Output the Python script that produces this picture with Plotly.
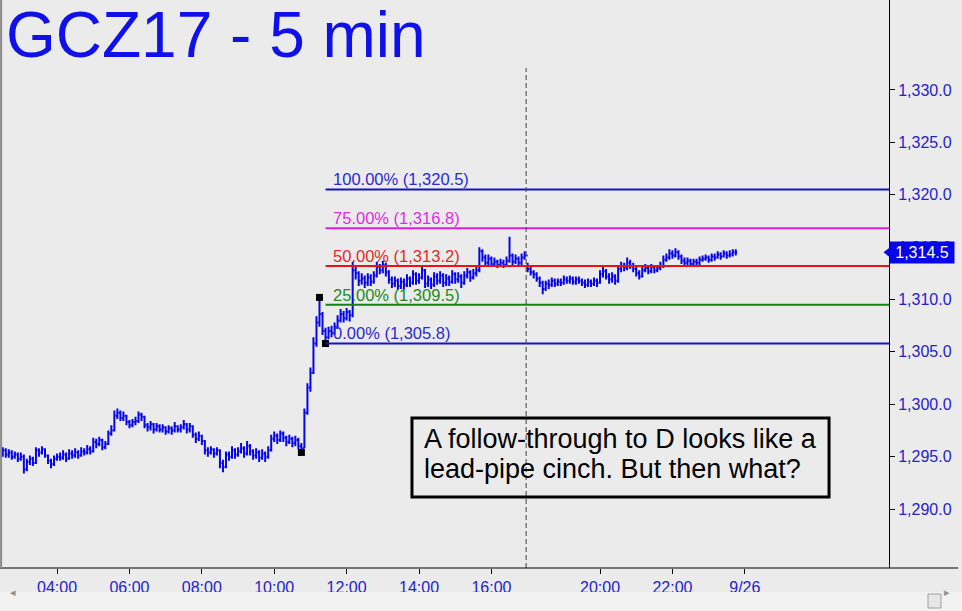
import plotly.graph_objects as go
import pandas as pd

# ---------------- data ----------------
title_text = "GCZ17 - 5 min"

bar_close = [
    1295.6, 1295.2, 1295.4, 1295.0, 1295.2, 1294.8, 1295.0, 1293.8, 1294.5, 1294.8, 1294.4, 1295.6,
    1295.4, 1295.7, 1295.1, 1294.6, 1294.3, 1294.8, 1295.0, 1294.9, 1295.2, 1294.8, 1295.3, 1295.1,
    1295.4, 1295.1, 1295.5, 1295.4, 1295.7, 1295.5, 1296.4, 1296.2, 1296.6, 1295.9, 1296.2, 1297.2,
    1297.5, 1298.9, 1299.2, 1298.7, 1298.9, 1298.3, 1298.0, 1298.3, 1298.4, 1299.0, 1298.8, 1298.0,
    1297.8, 1298.1, 1297.6, 1297.9, 1297.6, 1297.8, 1297.4, 1297.7, 1297.5, 1297.9, 1297.6, 1297.8,
    1298.1, 1297.6, 1297.9, 1297.1, 1296.7, 1297.0, 1296.5, 1295.6, 1295.4, 1295.7, 1295.3, 1295.6,
    1294.4, 1294.0, 1295.2, 1295.0, 1295.6, 1295.2, 1295.5, 1295.8, 1295.3, 1296.0, 1295.5, 1295.1,
    1295.4, 1294.9, 1295.3, 1295.0, 1295.6, 1296.7, 1297.0, 1296.6, 1297.2, 1296.8, 1296.4, 1296.7,
    1296.3, 1296.6, 1296.0, 1295.8, 1299.2, 1301.6, 1303.0, 1305.8, 1307.8, 1308.6, 1307.0, 1306.4,
    1307.0, 1306.8, 1307.4, 1308.0, 1308.6, 1308.2, 1308.8, 1308.5, 1312.8, 1312.5, 1311.8, 1312.0,
    1311.6, 1312.1, 1311.7, 1312.3, 1313.1, 1312.8, 1313.3, 1312.6, 1311.9, 1311.5, 1311.8, 1311.3,
    1311.7, 1311.4, 1312.0, 1311.6, 1312.4, 1311.8, 1312.1, 1312.8, 1311.5, 1311.9, 1311.4, 1312.2,
    1311.8, 1312.3, 1311.6, 1312.0, 1311.7, 1312.4, 1311.9, 1312.2, 1311.6, 1312.3, 1312.6, 1312.1,
    1312.5, 1312.8, 1314.6, 1314.0, 1313.5, 1313.9, 1313.4, 1313.6, 1313.3, 1313.5, 1313.3, 1313.7,
    1314.2, 1313.6, 1313.9, 1313.5, 1314.0, 1314.2,
    1312.9, 1312.6, 1312.4, 1312.0, 1311.6, 1311.0, 1311.5, 1311.4, 1311.8, 1311.5, 1311.7, 1311.6,
    1311.9, 1311.8, 1312.0, 1311.7, 1311.9, 1311.8, 1311.6, 1311.4, 1311.7, 1311.5, 1311.8, 1311.6,
    1312.4, 1312.7, 1312.2, 1311.9, 1312.2, 1311.8, 1312.9, 1313.2, 1313.0, 1313.5, 1313.2, 1312.9,
    1312.5, 1312.2, 1312.8, 1313.0, 1312.7, 1313.1, 1312.8, 1313.0, 1313.2, 1313.8, 1314.0, 1314.4,
    1314.2, 1314.5, 1314.1, 1313.7, 1313.5, 1313.7, 1313.4, 1313.6, 1313.5, 1313.8, 1313.9, 1314.0,
    1313.8, 1314.1, 1314.0, 1314.3, 1314.1, 1314.4, 1314.2, 1314.3, 1314.5, 1314.5,
]

bar_high = [
    1295.9, 1295.8, 1295.7, 1295.6, 1295.5, 1295.4, 1295.4, 1295.2, 1294.8, 1295.1, 1295.0, 1295.9,
    1295.8, 1296.0, 1295.8, 1295.2, 1294.8, 1295.1, 1295.3, 1295.4, 1295.6, 1295.4, 1295.7, 1295.6,
    1295.8, 1295.6, 1295.9, 1295.8, 1296.1, 1296.0, 1296.8, 1296.7, 1296.9, 1296.7, 1296.5, 1297.5,
    1298.0, 1299.4, 1299.6, 1299.4, 1299.3, 1299.0, 1298.5, 1298.6, 1298.8, 1299.3, 1299.2, 1298.9,
    1298.2, 1298.4, 1298.2, 1298.2, 1298.1, 1298.1, 1297.9, 1298.0, 1297.9, 1298.3, 1298.0, 1298.1,
    1298.5, 1298.2, 1298.2, 1298.0, 1297.3, 1297.4, 1297.1, 1296.6, 1295.9, 1296.0, 1295.8, 1295.9,
    1295.7, 1294.7, 1295.5, 1295.5, 1296.0, 1295.8, 1295.9, 1296.3, 1296.0, 1296.5, 1296.2, 1295.7,
    1295.8, 1295.6, 1295.7, 1295.5, 1296.0, 1297.1, 1297.4, 1297.2, 1297.5, 1297.4, 1297.0, 1297.1,
    1296.9, 1297.0, 1296.8, 1296.3, 1299.6, 1302.0, 1303.5, 1306.4, 1308.4, 1310.2, 1308.8, 1307.3,
    1307.4, 1307.5, 1307.8, 1308.5, 1309.1, 1308.9, 1309.2, 1309.0, 1313.6, 1313.2, 1312.7, 1312.5,
    1312.3, 1312.5, 1312.4, 1312.7, 1313.6, 1313.4, 1313.7, 1313.5, 1312.8, 1312.2, 1312.2, 1312.0,
    1312.1, 1312.0, 1312.4, 1312.2, 1312.8, 1312.6, 1312.5, 1313.3, 1312.9, 1312.3, 1312.1, 1312.6,
    1312.5, 1312.7, 1312.5, 1312.4, 1312.3, 1312.8, 1312.6, 1312.6, 1312.4, 1312.7, 1313.0, 1312.8,
    1312.9, 1313.2, 1315.0, 1314.8, 1314.3, 1314.3, 1314.1, 1314.0, 1313.8, 1313.9, 1313.8, 1314.1,
    1316.0, 1314.4, 1314.3, 1314.1, 1314.4, 1314.6,
    1313.5, 1313.1, 1312.8, 1312.6, 1312.2, 1311.8, 1311.8, 1311.9, 1312.1, 1312.0, 1312.0, 1312.0,
    1312.3, 1312.2, 1312.3, 1312.2, 1312.2, 1312.2, 1312.0, 1311.9, 1312.0, 1311.9, 1312.1, 1312.0,
    1312.8, 1313.1, 1312.9, 1312.5, 1312.6, 1312.4, 1313.3, 1313.6, 1313.5, 1314.0, 1313.8, 1313.5,
    1313.1, 1312.8, 1313.1, 1313.4, 1313.2, 1313.4, 1313.3, 1313.3, 1313.6, 1314.2, 1314.4, 1314.8,
    1314.7, 1314.9, 1314.7, 1314.3, 1314.0, 1314.0, 1313.9, 1313.9, 1313.9, 1314.1, 1314.2, 1314.3,
    1314.2, 1314.4, 1314.4, 1314.6, 1314.5, 1314.7, 1314.6, 1314.7, 1314.8, 1314.8,
]

bar_low = [
    1295.0, 1294.9, 1294.9, 1294.7, 1294.8, 1294.5, 1294.6, 1293.4, 1293.6, 1294.2, 1294.1, 1294.3,
    1295.0, 1295.2, 1294.9, 1294.3, 1293.9, 1294.1, 1294.6, 1294.6, 1294.7, 1294.5, 1294.7, 1294.8,
    1294.9, 1294.8, 1295.0, 1295.1, 1295.2, 1295.2, 1295.4, 1295.8, 1296.0, 1295.6, 1295.7, 1296.1,
    1297.0, 1297.4, 1298.6, 1298.4, 1298.4, 1298.0, 1297.7, 1297.8, 1298.0, 1298.2, 1298.4, 1297.7,
    1297.4, 1297.5, 1297.2, 1297.4, 1297.3, 1297.3, 1297.1, 1297.2, 1297.1, 1297.3, 1297.3, 1297.3,
    1297.6, 1297.2, 1297.3, 1296.8, 1296.3, 1296.5, 1296.1, 1295.2, 1295.0, 1295.2, 1294.9, 1295.1,
    1293.9, 1293.5, 1293.9, 1294.6, 1294.8, 1294.8, 1295.0, 1295.3, 1294.9, 1295.1, 1295.1, 1294.7,
    1294.8, 1294.5, 1294.7, 1294.5, 1294.8, 1295.5, 1296.4, 1296.2, 1296.4, 1296.4, 1296.0, 1296.2,
    1295.9, 1296.0, 1295.7, 1295.4, 1295.8, 1299.0, 1301.2, 1302.9, 1305.5, 1307.4, 1306.6, 1305.8,
    1306.2, 1306.4, 1306.6, 1307.2, 1307.8, 1307.8, 1308.0, 1307.9, 1308.3, 1311.9, 1311.3, 1311.4,
    1311.1, 1311.3, 1311.3, 1311.5, 1312.1, 1312.4, 1312.5, 1312.2, 1311.5, 1311.1, 1311.2, 1310.9,
    1311.0, 1311.0, 1311.2, 1311.2, 1311.4, 1311.4, 1311.5, 1311.9, 1311.1, 1311.2, 1311.0, 1311.2,
    1311.4, 1311.5, 1311.2, 1311.3, 1311.3, 1311.5, 1311.5, 1311.6, 1311.1, 1311.4, 1312.0, 1311.7,
    1311.9, 1312.2, 1312.6, 1313.6, 1313.1, 1313.3, 1313.1, 1313.2, 1313.0, 1313.1, 1313.0, 1313.1,
    1313.5, 1313.3, 1313.4, 1313.2, 1313.3, 1313.8,
    1312.6, 1312.3, 1312.0, 1311.7, 1311.2, 1310.5, 1310.8, 1311.0, 1311.2, 1311.2, 1311.3, 1311.3,
    1311.4, 1311.5, 1311.5, 1311.4, 1311.4, 1311.5, 1311.3, 1311.1, 1311.2, 1311.2, 1311.3, 1311.2,
    1311.5, 1312.1, 1311.9, 1311.5, 1311.6, 1311.4, 1311.6, 1312.6, 1312.7, 1312.8, 1312.9, 1312.6,
    1312.2, 1311.9, 1312.1, 1312.6, 1312.4, 1312.5, 1312.5, 1312.6, 1312.8, 1313.0, 1313.6, 1313.8,
    1313.9, 1314.0, 1313.8, 1313.4, 1313.2, 1313.3, 1313.1, 1313.2, 1313.2, 1313.3, 1313.6, 1313.7,
    1313.5, 1313.6, 1313.7, 1313.9, 1313.8, 1314.0, 1313.9, 1314.0, 1314.1, 1314.2,
]

first_open = 1295.3
bar_open = [first_open] + bar_close[:-1]   # each bar opens at the prior close

session1_start, session1_end = "2017-09-25 02:30", "2017-09-25 16:55"
session2_start, session2_end = "2017-09-25 18:00", "2017-09-26 04:00"

tick_times = ["2017-09-25 04:00", "2017-09-25 06:00", "2017-09-25 08:00", "2017-09-25 10:00",
              "2017-09-25 12:00", "2017-09-25 14:00", "2017-09-25 16:00", "2017-09-25 20:00",
              "2017-09-25 22:00", "2017-09-26 00:00"]
tick_text = ["04:00", "06:00", "08:00", "10:00", "12:00", "14:00", "16:00", "20:00", "22:00", "9/26"]
price_ticks = [1290, 1295, 1300, 1305, 1310, 1315, 1320, 1325, 1330]

pivot_times = ["2017-09-25 10:45", "2017-09-25 11:15", "2017-09-25 11:25"]
pivot_price = [1295.4, 1310.2, 1305.8]

fib_pct = ["100.00%", "75.00%", "50.00%", "25.00%", "0.00%"]
fib_price = [1320.5, 1316.8, 1313.2, 1309.5, 1305.8]
fib_line_color = ["#1414c4", "#e01ee0", "#e81414", "#148214", "#1414c4"]
fib_text_color = ["#2a2ad0", "#e02ee0", "#e22a2a", "#228a22", "#2a2ad0"]

last_price = 1314.5
note_lines = ["A follow-through to D looks like a", "lead-pipe cinch. But then what?"]

# ---------------- positions on a session-compressed bar axis ----------------
slots = list(pd.date_range(session1_start, session1_end, freq="5min")) + \
        list(pd.date_range(session2_start, session2_end, freq="5min"))
slot_index = {t: i for i, t in enumerate(slots)}
n = len(bar_close)
bar_pos = list(range(n))
tickvals = [slot_index[pd.Timestamp(t)] for t in tick_times]
pivot_pos = [slot_index[pd.Timestamp(t)] for t in pivot_times]
break_pos = slot_index[pd.Timestamp(session2_start)] - 0.5
fib_start = pivot_pos[2]

x_view = [-0.25, 293.8]
y_view = [1284.37, 1338.59]

BAR = "#0606e6"
AXIS_BLUE = "#2323c8"
BG = "#ebebeb"
ARIAL = "Liberation Sans, Arial, sans-serif"

fig = go.Figure()

# fib labels (below the bars)
fig.add_trace(go.Scatter(
    x=[fib_start + 2.5] * len(fib_price), y=fib_price, mode="text",
    text=[f"{p} ({v:,.1f})" for p, v in zip(fib_pct, fib_price)],
    textposition="top right",
    textfont=dict(family=ARIAL, size=16.5, color=fib_text_color),
    hoverinfo="skip", cliponaxis=False))

fig.add_trace(go.Ohlc(
    x=bar_pos, open=bar_open, high=bar_high, low=bar_low, close=bar_close,
    increasing=dict(line=dict(color=BAR, width=2)),
    decreasing=dict(line=dict(color=BAR, width=2)),
    tickwidth=0.45, hoverinfo="skip"))

fig.add_trace(go.Scatter(
    x=pivot_pos, y=pivot_price, mode="markers",
    marker=dict(symbol="square", size=7, color="black"), hoverinfo="skip"))

fig.add_trace(go.Scatter(
    x=[x_view[1]], y=[last_price], mode="markers",
    marker=dict(symbol="triangle-left", size=11, color=BAR), cliponaxis=False, hoverinfo="skip"))

shapes = []
for v, c in zip(fib_price, fib_line_color):
    shapes.append(dict(type="line", xref="x", yref="y", x0=fib_start, x1=x_view[1], y0=v, y1=v,
                       line=dict(color=c, width=2), layer="above"))
# session-break dashed line
shapes.append(dict(type="line", xref="x", yref="y", x0=break_pos, x1=break_pos, y0=y_view[0], y1=1332.1,
                   line=dict(color="#404040", width=1, dash="5px,3px"), layer="above"))
# note box
shapes.append(dict(type="rect", xref="paper", yref="paper", x0=0.4622, x1=0.9324, y0=0.125, y1=0.264,
                   line=dict(color="black", width=3), fillcolor="rgba(0,0,0,0)", layer="above"))
# bottom axis line across full width
shapes.append(dict(type="line", xref="paper", yref="paper", x0=-0.003, x1=1.078, y0=0, y1=0,
                   line=dict(color="black", width=1)))
# left frame
shapes.append(dict(type="line", xref="paper", yref="paper", x0=-0.001, x1=-0.001, y0=0, y1=1,
                   line=dict(color="#8a8a8a", width=2)))
# scrollbar
shapes.append(dict(type="rect", xref="paper", yref="paper", x0=-0.003, x1=1.09, y0=-0.0423, y1=-0.08,
                   line=dict(width=0), fillcolor="#f2f2f2"))
shapes.append(dict(type="rect", xref="paper", yref="paper", x0=(928 - 2) / 887, x1=(941 - 2) / 887,
                   y0=(568 - 594) / 568, y1=(568 - 608) / 568,
                   line=dict(color="#a0a0a0", width=1), fillcolor="#e6e6e6"))

annotations = [
    dict(text=title_text, xref="paper", yref="paper", x=0.002, y=1, xanchor="left", yanchor="top",
         showarrow=False, yshift=3, font=dict(family=ARIAL, size=64, color="#1010ea")),
    dict(text=note_lines[0], xref="paper", yref="paper", x=0.4735, y=0.2271, xanchor="left",
         yanchor="middle", showarrow=False, font=dict(family=ARIAL, size=27, color="black")),
    dict(text=note_lines[1], xref="paper", yref="paper", x=0.4735, y=0.1743, xanchor="left",
         yanchor="middle", showarrow=False, font=dict(family=ARIAL, size=27, color="black")),
    dict(text=f"{last_price:,.1f}", xref="paper", yref="y", x=1, y=last_price, xanchor="left",
         yanchor="middle", showarrow=False, bgcolor=BAR, borderpad=2, width=60,
         font=dict(family=ARIAL, size=16, color="white")),
    dict(text="◂", xref="paper", yref="paper", x=(8 - 2) / 887, y=(568 - 601) / 568, showarrow=False,
         font=dict(size=11, color="#909090")),
    dict(text="▸", xref="paper", yref="paper", x=(952 - 2) / 887, y=(568 - 601) / 568, showarrow=False,
         font=dict(size=11, color="#909090")),
]

fig.update_layout(
    width=962, height=611,
    margin=dict(l=2, r=73, t=0, b=43, autoexpand=False),
    paper_bgcolor=BG, plot_bgcolor=BG,
    showlegend=False,
    shapes=shapes, annotations=annotations,
    xaxis=dict(range=x_view, tickmode="array", tickvals=tickvals, ticktext=tick_text,
               ticks="outside", ticklen=5, tickcolor="black", showgrid=False, zeroline=False,
               showline=False, tickfont=dict(family=ARIAL, size=16, color=AXIS_BLUE),
               rangeslider=dict(visible=False), fixedrange=True, automargin=False),
    yaxis=dict(range=y_view, side="right", tickmode="array", tickvals=price_ticks, tickformat=",.1f",
               ticks="outside", ticklen=5, tickcolor="black", showline=True, linecolor="black",
               linewidth=1, showgrid=False, zeroline=False,
               tickfont=dict(family=ARIAL, size=16, color=AXIS_BLUE), fixedrange=True, automargin=False),
)

fig.write_html("out.html", config={"displayModeBar": False},
               post_script="document.body.style.margin='0';document.body.style.overflow='hidden';")
